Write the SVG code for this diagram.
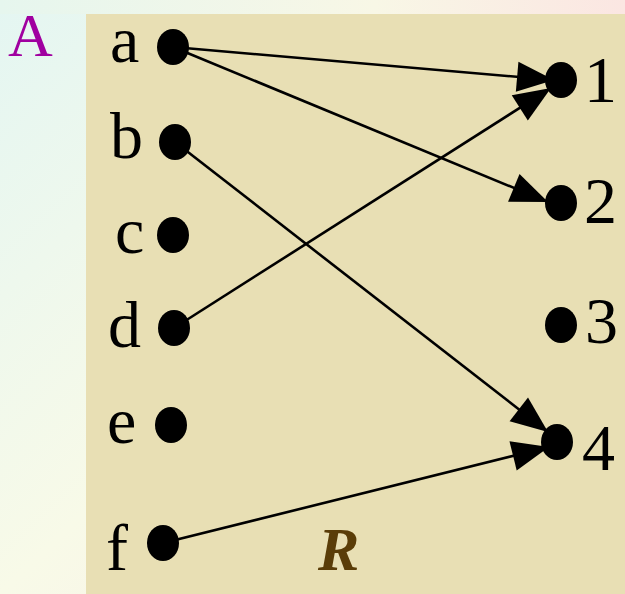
<svg xmlns="http://www.w3.org/2000/svg" width="625" height="594" viewBox="0 0 625 594">
<defs>
<linearGradient id="bg" x1="0" y1="0" x2="1" y2="1">
<stop offset="0" stop-color="#E4F6F2"/>
<stop offset="0.5" stop-color="#F8FAE8"/>
<stop offset="1" stop-color="#FBE9E4"/>
</linearGradient>
<linearGradient id="bgt" x1="0" y1="0" x2="1" y2="0">
<stop offset="0" stop-color="#E6F6EE"/>
<stop offset="0.6" stop-color="#F8F7E6"/>
<stop offset="1" stop-color="#FBE6E2"/>
</linearGradient>
<marker id="arr" markerUnits="userSpaceOnUse" markerWidth="42" markerHeight="36" viewBox="-40 -18 42 36" refX="0" refY="0" orient="auto">
<path d="M0,0 L-37,-15 L-37,15 Z" fill="#000"/>
</marker>
<style>
.lbl{font-family:"Liberation Serif","Times New Roman",serif;font-size:66px;fill:#000}
.dot{fill:#000}
.edge{stroke:#000;stroke-width:2.6;fill:none;marker-end:url(#arr)}
</style>
</defs>
<rect x="0" y="0" width="625" height="594" fill="url(#bg)"/>
<rect x="0" y="0" width="625" height="14" fill="url(#bgt)"/>
<rect x="86" y="14" width="539" height="580" fill="#E8DFB4"/>
<text x="8" y="56" font-family="Liberation Serif,serif" font-size="62" fill="#A000A0">A</text>
<g id="edges">
<line class="edge" x1="173" y1="47" x2="554" y2="80"/>
<line class="edge" x1="173" y1="47" x2="548" y2="202"/>
<line class="edge" x1="174" y1="328" x2="551" y2="88"/>
<line class="edge" x1="175" y1="142" x2="548" y2="432"/>
<line class="edge" x1="163" y1="543" x2="549" y2="447"/>
</g>
<g id="node-a"><ellipse class="dot" cx="173" cy="47" rx="16" ry="18"/><text class="lbl" x="110" y="62">a</text></g>
<g id="node-b"><ellipse class="dot" cx="175" cy="142" rx="16" ry="18"/><text class="lbl" x="110" y="158">b</text></g>
<g id="node-c"><ellipse class="dot" cx="173" cy="235" rx="16" ry="18"/><text class="lbl" x="115" y="253">c</text></g>
<g id="node-d"><ellipse class="dot" cx="174" cy="328" rx="16" ry="18"/><text class="lbl" x="108" y="347">d</text></g>
<g id="node-e"><ellipse class="dot" cx="171" cy="425" rx="16" ry="18"/><text class="lbl" x="107" y="443">e</text></g>
<g id="node-f"><ellipse class="dot" cx="163" cy="543" rx="16" ry="18"/><text class="lbl" x="106" y="570">f</text></g>
<g id="node-1"><ellipse class="dot" cx="561" cy="80" rx="16" ry="18"/><text class="lbl" x="584" y="102">1</text></g>
<g id="node-2"><ellipse class="dot" cx="561" cy="203" rx="16" ry="18"/><text class="lbl" x="584" y="223">2</text></g>
<g id="node-3"><ellipse class="dot" cx="561" cy="325" rx="16" ry="18"/><text class="lbl" x="585" y="343">3</text></g>
<g id="node-4"><ellipse class="dot" cx="557" cy="442" rx="16" ry="18"/><text class="lbl" x="582" y="470">4</text></g>
<text x="318" y="570" font-family="Liberation Serif,serif" font-size="62" font-weight="bold" font-style="italic" fill="#5A3D08">R</text>
</svg>
